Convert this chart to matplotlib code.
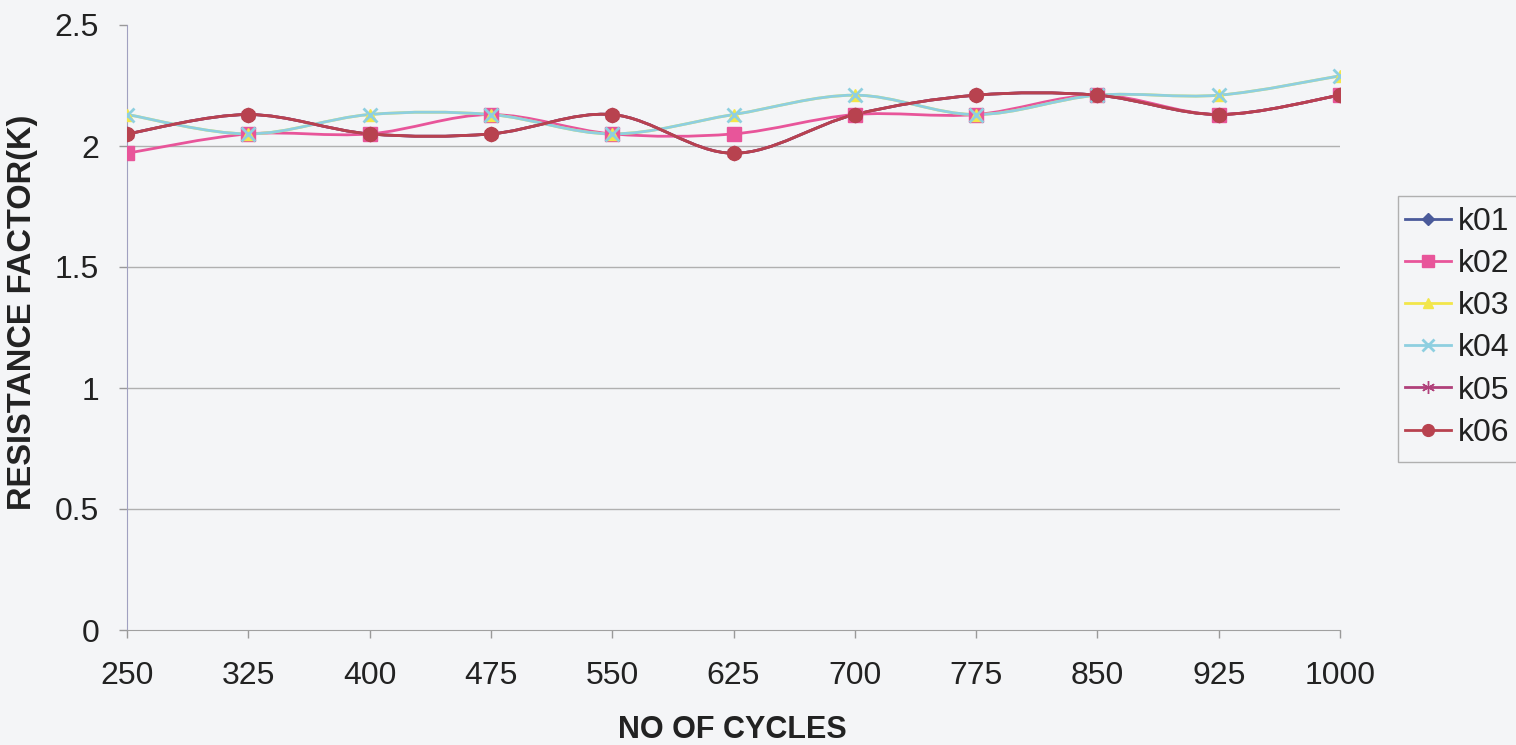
import numpy as np
import matplotlib
matplotlib.use("Agg")
import matplotlib.pyplot as plt
from matplotlib.path import Path
from matplotlib.patches import PathPatch, Rectangle
from matplotlib.lines import Line2D

# ---- data ----
cycles = ["250", "325", "400", "475", "550", "625", "700", "775", "850", "925", "1000"]
k01 = [2.05, 2.13, 2.05, 2.05, 2.13, 1.97, 2.13, 2.21, 2.21, 2.13, 2.21]
k02 = [1.97, 2.05, 2.05, 2.13, 2.05, 2.05, 2.13, 2.13, 2.21, 2.13, 2.21]
k03 = [2.13, 2.05, 2.13, 2.13, 2.05, 2.13, 2.21, 2.13, 2.21, 2.21, 2.29]
k04 = [2.13, 2.05, 2.13, 2.13, 2.05, 2.13, 2.21, 2.13, 2.21, 2.21, 2.29]
k05 = [2.05, 2.13, 2.05, 2.05, 2.13, 1.97, 2.13, 2.21, 2.21, 2.13, 2.21]
k06 = [2.05, 2.13, 2.05, 2.05, 2.13, 1.97, 2.13, 2.21, 2.21, 2.13, 2.21]
series_names = ["k01", "k02", "k03", "k04", "k05", "k06"]
series_vals = [k01, k02, k03, k04, k05, k06]
yticks = [0, 0.5, 1, 1.5, 2, 2.5]
ytick_labels = ["0", "0.5", "1", "1.5", "2", "2.5"]

colors = ["#4a5a9a", "#e8559a", "#f2e64a", "#8ecfe0", "#b0407a", "#b8424f"]
markers = ["D", "s", "^", "x", (6, 2, 0), "o"]
msizes = [7, 10, 9, 10, 11, 10]

FONT = "Liberation Sans"
bg = "#f4f5f7"

fig = plt.figure(figsize=(15.16, 7.45), dpi=100, facecolor=bg)
ax = fig.add_axes([127 / 1516, 115 / 745, (1340 - 127) / 1516, 605 / 745])
ax.set_facecolor(bg)

x = np.arange(len(cycles))


def smooth_path(xs, ys, t=1 / 6):
    verts = [(xs[0], ys[0])]
    codes = [Path.MOVETO]
    n = len(xs)
    for i in range(n - 1):
        p0 = (xs[max(i - 1, 0)], ys[max(i - 1, 0)])
        p1 = (xs[i], ys[i])
        p2 = (xs[i + 1], ys[i + 1])
        p3 = (xs[min(i + 2, n - 1)], ys[min(i + 2, n - 1)])
        c1 = (p1[0] + (p2[0] - p0[0]) * t, p1[1] + (p2[1] - p0[1]) * t)
        c2 = (p2[0] - (p3[0] - p1[0]) * t, p2[1] - (p3[1] - p1[1]) * t)
        verts += [c1, c2, p2]
        codes += [Path.CURVE4] * 3
    return Path(verts, codes)


for name, vals, c, m, ms in zip(series_names, series_vals, colors, markers, msizes):
    patch = PathPatch(smooth_path(x, vals), facecolor="none", edgecolor=c, lw=2.0, zorder=3)
    ax.add_patch(patch)
    ax.plot(x, vals, linestyle="none", marker=m, color=c, markersize=ms,
            markeredgewidth=2 if m == "x" else 1, zorder=4)

ax.set_xlim(0, len(cycles) - 1)
ax.set_ylim(0, 2.5)
ax.set_xticks(x)
ax.set_xticklabels(cycles)
ax.set_yticks(yticks)
ax.set_yticklabels(ytick_labels)
for yv in yticks[1:-1]:
    ax.axhline(yv, color="#b0b0b0", lw=1, zorder=1)
for s in ["top", "right"]:
    ax.spines[s].set_visible(False)
ax.spines["left"].set_color("#a0a0c0")
ax.spines["bottom"].set_color("#a0a0a0")
ax.tick_params(axis="both", labelsize=23, colors="#999999", length=6, width=1,
               labelcolor="#222222", direction="out")
ax.tick_params(axis="x", pad=16)
ax.tick_params(axis="y", pad=14)
for lab in ax.get_xticklabels() + ax.get_yticklabels():
    lab.set_fontfamily(FONT)

fig.text(732 / 1516, 1 - 738 / 745, "NO OF CYCLES", fontsize=22, fontweight="bold",
         fontfamily=FONT, color="#222222", ha="center", va="baseline")
fig.text(23 / 1516, 1 - 312 / 745, "RESISTANCE FACTOR(K)", fontsize=23.5,
         fontweight="bold", fontfamily=FONT, color="#222222", rotation=90,
         ha="center", va="center")

# legend frame (extends past the right edge of the picture, as in the scan)
fig.patches.append(Rectangle((1398 / 1516, 1 - 462 / 745), 140 / 1516, 266 / 745,
                             transform=fig.transFigure, facecolor=bg,
                             edgecolor="#b0b0b0", lw=1, zorder=5))
handles = [Line2D([0], [0], color=c, marker=m, markersize=ms * 0.85, lw=2,
                  markeredgewidth=2 if m == "x" else 1)
           for c, m, ms in zip(colors, markers, msizes)]
leg = fig.legend(handles, series_names, loc="upper left",
                 bbox_to_anchor=(1405 / 1516, 1 - 207 / 745),
                 prop={"family": FONT, "size": 23}, frameon=False,
                 handlelength=1.45, handletextpad=0.22, labelspacing=0.38,
                 borderpad=0.0, borderaxespad=0)
leg.set_zorder(6)
for t in leg.get_texts():
    t.set_color("#222222")

fig.savefig("out.png", dpi=100, facecolor=bg)
